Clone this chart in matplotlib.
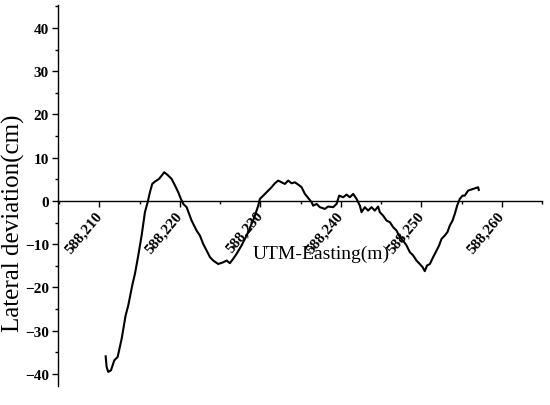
import matplotlib
matplotlib.use("Agg")
import matplotlib.pyplot as plt
from matplotlib.ticker import MultipleLocator, StrMethodFormatter

plt.rcParams["font.family"] = ["Liberation Serif", "DejaVu Serif"]

# UTM easting (m) and lateral deviation (cm)
easting = [
    588210.77, 588210.89, 588211.09, 588211.43, 588211.84, 588212.26, 588212.76,
    588213.25, 588213.58, 588214.07, 588214.41, 588214.75, 588215.24, 588215.65,
    588215.99, 588216.27, 588216.56, 588216.89, 588217.39, 588217.73, 588218.05,
    588218.47, 588218.97, 588219.29, 588219.79, 588220.12, 588220.41,
    588220.83, 588221.45, 588222.07, 588222.48, 588222.89, 588223.32, 588223.73,
    588224.14, 588224.76, 588225.38, 588225.80, 588226.21, 588226.62, 588227.04,
    588227.66, 588228.29, 588228.91, 588229.32, 588229.73, 588229.94, 588230.35,
    588230.77, 588231.39, 588231.80, 588232.21, 588232.63, 588233.04, 588233.45,
    588233.88, 588234.29, 588234.70, 588235.12, 588235.53, 588236.36, 588236.56,
    588236.98, 588237.39, 588238.01, 588238.42, 588239.04, 588239.47, 588239.79,
    588240.29, 588240.71, 588241.12, 588241.53, 588241.95, 588242.36, 588242.57,
    588242.98, 588243.39, 588243.81, 588244.22, 588244.63, 588244.84, 588245.25,
    588245.68, 588246.09, 588246.50, 588246.92, 588247.33, 588247.74, 588248.16,
    588248.57, 588248.98, 588249.40, 588249.81, 588250.15, 588250.43, 588250.71,
    588251.06, 588251.47, 588251.89, 588252.21, 588252.51, 588252.92, 588253.25,
    588253.54, 588253.88, 588254.16, 588254.45, 588254.78, 588255.12, 588255.40,
    588255.81, 588256.43, 588257.06, 588257.14,
]
deviation = [
    -35.96, -38.40, -39.56, -39.19, -36.88, -36.10, -31.87,
    -26.49, -24.18, -19.56, -16.86, -13.39, -8.01, -2.61,
    -0.30, 2.01, 3.93, 4.46, 5.08, 5.84, 6.63,
    6.00, 5.08, 3.93, 2.01, 0.46, -0.69,
    -1.45, -4.55, -6.86, -8.00, -9.94, -11.50, -13.00,
    -13.80, -14.60, -14.20, -13.80, -14.40, -13.40, -12.25,
    -10.30, -8.00, -5.30, -3.40, -1.10, 0.46, 1.22,
    2.00, 3.16, 4.08, 4.70, 4.30, 3.93, 4.70,
    4.08, 4.30, 3.77, 3.16, 1.62, -0.30, -1.10,
    -0.70, -1.45, -1.85, -1.30, -1.45, -0.70, 1.22,
    0.85, 1.46, 0.85, 1.62, 0.46, -1.09, -2.61,
    -1.45, -2.24, -1.45, -2.24, -1.30, -2.61, -3.40,
    -4.55, -4.92, -6.08, -6.86, -8.40, -9.20, -10.30,
    -11.86, -12.60, -13.80, -14.60, -15.30, -16.25, -14.95,
    -14.60, -13.00, -11.50, -10.30, -8.80, -8.00, -7.20,
    -5.70, -4.55, -3.00, -1.10, 0.46, 1.22, 1.22,
    2.38, 2.77, 3.16, 2.54,
]

fig = plt.figure(figsize=(5.5, 4.06), dpi=100)
ax = fig.add_axes([0.1055, 0.047, 0.88, 0.938])

ax.plot(easting, deviation, color="black", lw=1.5)

ax.set_xlim(588204.85, 588265)
ax.set_ylim(-42.8, 45.3)

ax.spines["top"].set_visible(False)
ax.spines["right"].set_visible(False)
ax.spines["bottom"].set_position(("data", 0))
ax.spines["bottom"].set_linewidth(1.0)
ax.spines["left"].set_linewidth(1.0)

ax.xaxis.set_major_locator(MultipleLocator(10))
ax.xaxis.set_minor_locator(MultipleLocator(5))
ax.xaxis.set_major_formatter(StrMethodFormatter("{x:,.0f}"))
ax.yaxis.set_major_locator(MultipleLocator(10))
ax.yaxis.set_minor_locator(MultipleLocator(5))

ax.tick_params(which="major", direction="out", length=4.5, width=1.0, pad=2)
ax.tick_params(which="minor", direction="out", length=2.5, width=1.0)
ax.tick_params(axis="x", which="major", pad=4)

for lab in ax.get_xticklabels():
    lab.set_rotation(50)
    lab.set_ha("right")
    lab.set_va("center")
    lab.set_rotation_mode("anchor")
    lab.set_fontweight("bold")
    lab.set_fontsize(11)
for lab in ax.get_yticklabels():
    lab.set_fontweight("bold")
    lab.set_fontsize(11)

ax.set_xlabel("UTM-Easting(m)", fontsize=14)
ax.xaxis.label.set_va("center")
ax.xaxis.set_label_coords(0.543, 0.349)

ax.set_ylabel("Lateral deviation(cm)", fontsize=18)
ax.yaxis.label.set_va("center")
ax.yaxis.set_label_coords(-0.092, 0.43)

fig.savefig("out.png", dpi=100)
